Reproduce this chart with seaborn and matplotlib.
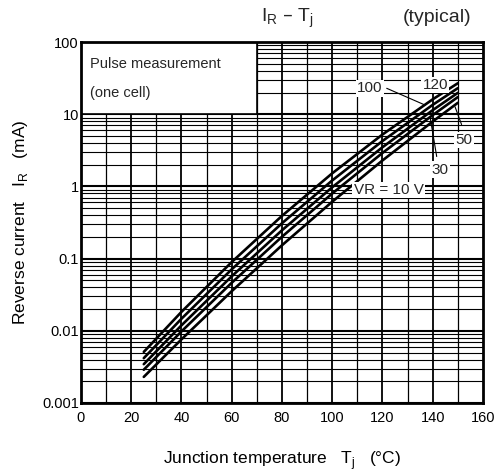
import numpy as np
import pandas as pd
import matplotlib
matplotlib.use("Agg")
import matplotlib.pyplot as plt
import matplotlib.ticker as mticker
from matplotlib.patches import Rectangle
import seaborn as sns

# data
tj = [25, 40, 60, 80, 100, 120, 140, 150]
ir_120v = [0.0051, 0.0183, 0.0896, 0.391, 1.52, 5.24, 16.1, 26.9]
ir_100v = [0.00418, 0.0147, 0.0711, 0.309, 1.21, 4.26, 13.5, 23.0]
ir_50v = [0.00345, 0.0119, 0.0569, 0.247, 0.974, 3.49, 11.4, 19.8]
ir_30v = [0.00289, 0.00981, 0.0463, 0.201, 0.798, 2.91, 9.74, 17.3]
ir_10v = [0.0023, 0.00761, 0.0354, 0.153, 0.614, 2.29, 7.94, 14.4]
vr = ["120", "100", "50", "30", "10"]

series = [ir_120v, ir_100v, ir_50v, ir_30v, ir_10v]
df = pd.concat([pd.DataFrame({"Tj": tj, "IR": s, "VR": v}) for s, v in zip(series, vr)])

sns.set_theme(style="white")
plt.rcParams["font.family"] = ["Liberation Sans", "DejaVu Sans"]

fig = plt.figure(figsize=(4.95, 4.73), dpi=100)
ax = fig.add_axes([0.1636, 0.148, 0.812, 0.763])

ax.set_yscale("log")
ax.set_xlim(0, 160)
ax.set_ylim(0.001, 100)

# grid
for x in range(10, 160, 10):
    ax.axvline(x, color="black", lw=1.3 if x % 20 == 0 else 0.9, zorder=1)
for dec in [0.001, 0.01, 0.1, 1, 10]:
    ax.axhline(dec, color="black", lw=1.5, zorder=1)
    for k in range(2, 10):
        ax.axhline(dec * k, color="black", lw=0.8, zorder=1)

# inset box
ax.add_patch(Rectangle((0, 10), 70, 90, facecolor="white", edgecolor="black",
                       lw=1.2, zorder=2))
ax.text(3.5, 50, "Pulse measurement", fontsize=10.5, va="center", ha="left", zorder=3)
ax.text(3.5, 20, "(one cell)", fontsize=10.5, va="center", ha="left", zorder=3)

sns.lineplot(data=df, x="Tj", y="IR", hue="VR", palette=["black"] * 5,
             linewidth=1.9, legend=False, ax=ax, zorder=4)

box = dict(facecolor="white", edgecolor="none", pad=1.0)
lab = dict(fontsize=11, ha="center", va="center", bbox=box, zorder=5)
ax.text(115, 23, "100", **lab)
ax.text(141, 25.5, "120", **lab)
ax.text(152.5, 4.4, "50", **lab)
ax.text(143, 1.7, "30", **lab)
ax.text(122.5, 0.89, "VR = 10 V", **lab)
ax.plot([121.7, 137], [22.9, 13.4], color="black", lw=0.8, zorder=5)
ax.plot([139, 141.6], [9.0, 2.6], color="black", lw=0.8, zorder=5)
ax.plot([148.9, 151.5], [12.7, 7.2], color="black", lw=0.8, zorder=5)

ax.xaxis.set_major_locator(mticker.MultipleLocator(20))
ax.yaxis.set_major_locator(mticker.FixedLocator([0.001, 0.01, 0.1, 1, 10, 100]))
ax.yaxis.set_minor_locator(mticker.NullLocator())
ax.set_yticklabels(["0.001", "0.01", "0.1", "1", "10", "100"])
ax.tick_params(axis="x", length=0, labelsize=10.5, pad=6, colors="black")
ax.tick_params(axis="y", length=0, labelsize=10.5, pad=1.5, colors="black")

for sp in ax.spines.values():
    sp.set_color("black")
    sp.set_linewidth(2.0)
    sp.set_zorder(6)

ax.set_xlabel("Junction temperature   T$_\\mathregular{j}$   (°C)", fontsize=12.5,
              labelpad=17, color="black")
ax.set_ylabel("Reverse current   I$_\\mathregular{R}$   (mA)", fontsize=12.5,
              labelpad=9, color="black")

fig.text(0.581, 0.962, "I$_\\mathregular{R}$ – T$_\\mathregular{j}$", fontsize=14,
         ha="center", va="center")
fig.text(0.883, 0.962, "(typical)", fontsize=14, ha="center", va="center")

fig.savefig("out.png", dpi=100)
